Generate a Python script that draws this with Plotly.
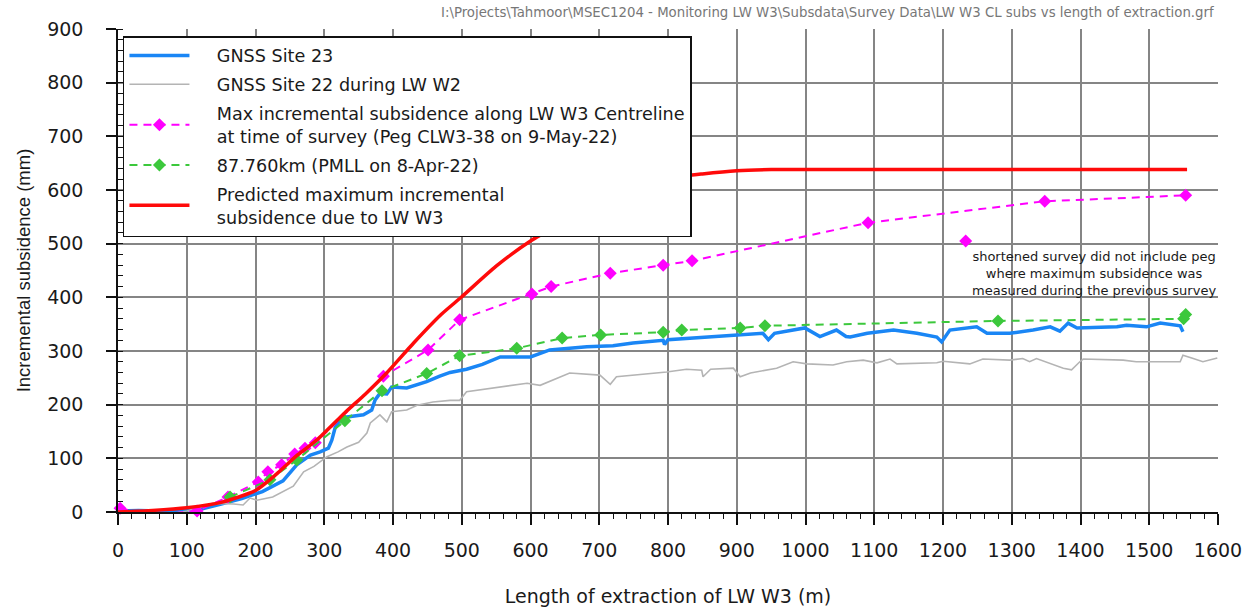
import plotly.graph_objects as go

# ---------------- data ----------------
pred_x = [0, 50, 100, 150, 200, 230, 260, 290, 330, 360, 390, 430, 470, 500, 550, 600, 650, 700, 750, 800, 850, 900, 950, 1000, 1555]
pred_y = [0, 3, 8, 18, 40, 70, 105, 135, 185, 220, 258, 315, 368, 401, 458, 505, 542, 578, 605, 622, 630, 636, 638, 638, 638]

site23_x = [0, 30, 60, 90, 120, 150, 180, 210, 240, 260, 280, 294, 306, 311, 316, 323, 333, 357, 369, 374, 381, 391, 398,
            420, 449, 468, 483, 507, 530, 556, 600, 628, 682, 720, 749, 793, 795, 800, 850, 895, 938, 946, 955, 999,
            1021, 1045, 1059, 1065, 1090, 1128, 1162, 1191, 1198, 1210, 1249, 1264, 1297, 1331, 1356, 1370, 1382,
            1395, 1453, 1467, 1496, 1516, 1545, 1549]
site23_y = [2, 3, 2, 3, 5, 15, 25, 38, 58, 88, 106, 112, 119, 134, 158, 171, 177, 181, 190, 209, 221, 220, 233,
            231, 243, 253, 260, 266, 275, 289, 289, 302, 308, 310, 315, 320, 312, 321, 325, 328, 333, 321, 333, 343,
            327, 339, 327, 326, 333, 339, 333, 326, 317, 339, 345, 333, 333, 339, 345, 337, 352,
            343, 345, 348, 345, 352, 347, 336]

site22_x = [40, 56, 76, 85, 100, 119, 138, 168, 182, 192, 202, 225, 246, 255, 270, 285, 304, 320, 333, 350, 362, 367,
            381, 391, 398, 420, 435, 458, 483, 497, 507, 556, 595, 614, 657, 701, 716, 725, 798, 827, 849, 851, 862,
            895, 905, 920, 958, 982, 1002, 1040, 1060, 1084, 1104, 1123, 1133, 1191, 1200, 1239, 1258, 1297, 1316,
            1326, 1336, 1375, 1387, 1399, 1404, 1462, 1481, 1545, 1549, 1564, 1578, 1599]
site22_y = [-5, -11, -9, -2, 2, 9, 16, 15, 13, 26, 22, 28, 41, 48, 75, 85, 103, 112, 121, 130, 147, 166,
            181, 168, 187, 190, 199, 205, 208, 208, 224, 233, 240, 236, 259, 255, 238, 252, 261, 266, 264, 252, 266,
            268, 252, 259, 268, 280, 276, 274, 280, 283, 278, 285, 276, 278, 281, 276, 285, 283, 286,
            280, 286, 268, 265, 280, 285, 283, 280, 280, 292, 286, 280, 287]

max_x = [3, 51, 115, 160, 204, 218, 238, 257, 272, 287, 386, 451, 497, 602, 630, 716, 793, 835, 1091, 1348, 1553]
max_y = [7, -6, 2, 28, 56, 75, 88, 108, 119, 129, 253, 302, 358, 406, 420, 445, 460, 468, 539, 579, 590]
short_x = [1233]
short_y = [505]

pmll_x = [163, 221, 260, 330, 384, 449, 497, 580, 646, 702, 793, 820, 905, 941, 1280, 1550, 1553]
pmll_y = [28, 60, 97, 170, 226, 258, 291, 305, 324, 330, 335, 339, 343, 347, 356, 360, 368]

x_ticks = list(range(0, 1601, 100))
y_ticks = list(range(0, 901, 100))

names = [
    "GNSS Site 23",
    "GNSS Site 22 during LW W2",
    "Max incremental subsidence along LW W3 Centreline<br>at time of survey (Peg CLW3-38 on 9-May-22)",
    "87.760km (PMLL on 8-Apr-22)",
    "Predicted maximum incremental<br>subsidence due to LW W3",
]
path_text = ("I:\\Projects\\Tahmoor\\MSEC1204 - Monitoring LW W3\\Subsdata\\Survey Data\\"
             "LW W3 CL subs vs length of extraction.grf")
note_text = ("shortened survey did not include peg<br>where maximum subsidence was<br>"
             "measured during the previous survey")

WIDE = "DejaVu Sans, Verdana, sans-serif"
NARROW = "Liberation Sans, Arial, sans-serif"
PAD = "\u00a0\u00a0\u00a0\u00a0"


def lg(s):
    return "<br>".join(PAD + part for part in s.split("<br>"))


fig = go.Figure()
fig.add_trace(go.Scatter(x=site23_x, y=site23_y, mode="lines", name=lg(names[0]), legendgroup="a",
                         line=dict(color="#1a86f5", width=3.5)))
fig.add_trace(go.Scatter(x=site22_x, y=site22_y, mode="lines", name=lg(names[1]), legendgroup="b",
                         line=dict(color="#b4b4b4", width=1.6)))
fig.add_trace(go.Scatter(x=max_x, y=max_y, mode="lines+markers", name=lg(names[2]), legendgroup="c",
                         line=dict(color="#ff00ff", width=2, dash="8px,6px"),
                         marker=dict(symbol="diamond", size=10, color="#ff00ff"),
                         cliponaxis=False))
fig.add_trace(go.Scatter(x=short_x, y=short_y, mode="markers", showlegend=False, legendgroup="c",
                         marker=dict(symbol="diamond", size=10, color="#ff00ff")))
fig.add_trace(go.Scatter(x=pmll_x, y=pmll_y, mode="lines+markers", name=lg(names[3]), legendgroup="d",
                         line=dict(color="#3cc83c", width=2, dash="8px,6px"),
                         marker=dict(symbol="diamond", size=10, color="#3cc83c")))
fig.add_trace(go.Scatter(x=pred_x, y=pred_y, mode="lines", name=lg(names[4]), legendgroup="e",
                         line=dict(color="#ff0a0a", width=3.5, shape="spline", smoothing=0.6)))

fig.update_layout(
    width=1255, height=614,
    margin=dict(l=118, r=37, t=29, b=102),
    paper_bgcolor="white", plot_bgcolor="white",
    font=dict(family=WIDE, color="#1a1a1a"),
    showlegend=True,
    legend=dict(x=0.0045, y=0.9855, xanchor="left", yanchor="top",
                bgcolor="white", bordercolor="#111", borderwidth=1.5,
                font=dict(size=17.6, family=WIDE, color="#1a1a1a"),
                itemwidth=60, tracegroupgap=3),
)

fig.update_xaxes(
    range=[0, 1600], tickvals=x_ticks, ticktext=[str(v) for v in x_ticks],
    showgrid=True, gridcolor="#858585", gridwidth=1.5,
    showline=True, linecolor="#111", linewidth=1.5,
    ticks="outside", ticklen=11, tickwidth=1.5, tickcolor="#111",
    minor=dict(dtick=20, ticks="outside", ticklen=5, tickwidth=1, tickcolor="#111", showgrid=False),
    tickfont=dict(size=19, family=WIDE), ticklabelstandoff=9,
    title=dict(text="Length of extraction of LW W3 (m)", font=dict(size=19, family=WIDE), standoff=30),
    zeroline=False, automargin=False,
)
fig.update_yaxes(
    range=[0, 900], tickvals=y_ticks, ticktext=[str(v) for v in y_ticks],
    showgrid=True, gridcolor="#858585", gridwidth=1.5,
    showline=True, linecolor="#111", linewidth=1.5,
    ticks="outside", ticklen=10, tickwidth=1.5, tickcolor="#111",
    minor=dict(dtick=20, ticks="inside", ticklen=5, tickwidth=1, tickcolor="#111", showgrid=False),
    tickfont=dict(size=19, family=WIDE), ticklabelstandoff=19,
    title=dict(text="Incremental subsidence (mm)", font=dict(size=18.5, family=NARROW), standoff=12),
    zeroline=False, automargin=False,
)

fig.add_annotation(x=1420, y=445, xref="x", yref="y", text=note_text, showarrow=False,
                   font=dict(size=13, color="#1a1a1a", family=WIDE), align="center")
fig.add_annotation(x=0.998, y=1.035, xref="paper", yref="paper", text=path_text, showarrow=False,
                   xanchor="right", yanchor="middle", font=dict(size=13.3, color="#777", family=WIDE))

fig.write_html("out.html")
